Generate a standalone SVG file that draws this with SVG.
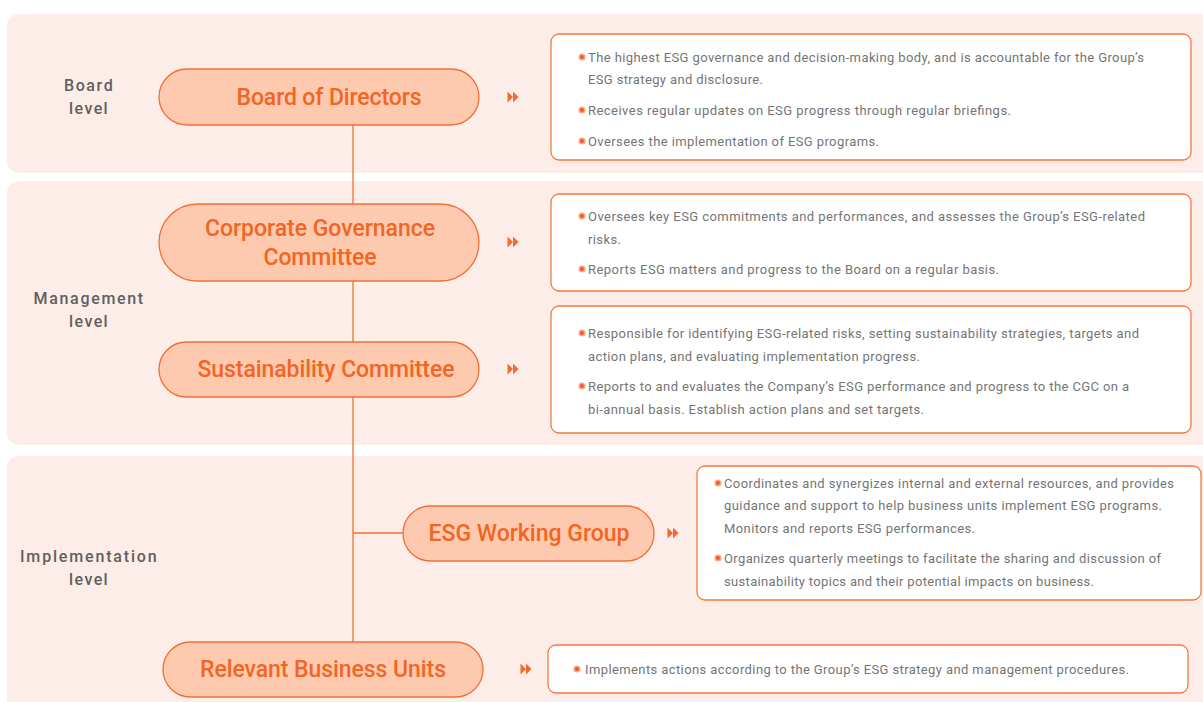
<svg xmlns="http://www.w3.org/2000/svg" width="1203" height="702" viewBox="0 0 1203 702">
<defs>
<style>
.band{fill:#fdede8}
.pill{fill:#fdcab0;stroke:#f07035;stroke-width:1.3}
.title{font-family:Roboto,"Liberation Sans",sans-serif;font-weight:500;font-size:23px;fill:#f26522;text-anchor:middle}
.lvl{font-family:Roboto,"Liberation Sans",sans-serif;font-weight:500;font-size:16px;fill:#606060;text-anchor:middle;letter-spacing:1.3px}
.box{fill:#ffffff;stroke:#f47a3e;stroke-width:1.3}
.txt{font-family:Roboto,"Liberation Sans",sans-serif;font-size:13px;fill:#757575}
.conn{stroke:#f07035;stroke-width:1.3;fill:none}
.arr{fill:#f26a2e}
.bo{fill:#f8a684}
.bi{fill:#ee5a1f}
</style>
<g id="dbl"><path class="arr" d="M-5.5,-5.5 L0,0 L-5.5,5.5 Z M0,-5.5 L5.5,0 L0,5.5 Z"/></g>
<g id="bul"><circle class="bo" r="3.6"/><circle class="bi" r="1.9"/></g>
</defs>

<g id="bands">
<rect class="band" x="7" y="14" width="1210" height="159" rx="12"/>
<rect class="band" x="7" y="181" width="1210" height="264" rx="12"/>
<rect class="band" x="7" y="456" width="1210" height="260" rx="12"/>
</g>

<g id="levels">
<text class="lvl" x="89" y="91" textLength="50">Board</text>
<text class="lvl" x="89" y="114" textLength="40">level</text>
<text class="lvl" x="89" y="304" textLength="111">Management</text>
<text class="lvl" x="89" y="327" textLength="40">level</text>
<text class="lvl" x="89" y="562" textLength="138">Implementation</text>
<text class="lvl" x="89" y="585" textLength="40">level</text>
</g>

<g id="connectors">
<line class="conn" x1="353" y1="125" x2="353" y2="642"/>
<line class="conn" x1="353" y1="533" x2="403" y2="533"/>
<use href="#dbl" x="513" y="97"/>
<use href="#dbl" x="513" y="242"/>
<use href="#dbl" x="513" y="369"/>
<use href="#dbl" x="673" y="533"/>
<use href="#dbl" x="526" y="669"/>
</g>

<g id="board">
<rect class="pill" x="159" y="69" width="320" height="56" rx="28"/>
<text class="title" x="329" y="105" textLength="185">Board of Directors</text>
</g>

<g id="cgc">
<rect class="pill" x="159" y="204" width="320" height="77" rx="38.5"/>
<text class="title" x="320" y="236" textLength="230">Corporate Governance</text>
<text class="title" x="320" y="265" textLength="113">Committee</text>
</g>

<g id="sc">
<rect class="pill" x="159" y="342" width="320" height="55" rx="27.5"/>
<text class="title" x="326" y="377" textLength="257">Sustainability Committee</text>
</g>

<g id="wg">
<rect class="pill" x="403" y="506" width="251" height="55" rx="27.5"/>
<text class="title" x="529" y="541" textLength="201">ESG Working Group</text>
</g>

<g id="bu">
<rect class="pill" x="163" y="642" width="320" height="55" rx="27.5"/>
<text class="title" x="323" y="677" textLength="246">Relevant Business Units</text>
</g>

<g id="desc-board">
<rect class="box" x="551" y="34" width="640" height="126" rx="8"/>
<use href="#bul" x="582" y="57"/>
<text class="txt" x="588" y="61.5" textLength="556">The highest ESG governance and decision-making body, and is accountable for the Group’s</text>
<text class="txt" x="588" y="83.5" textLength="175">ESG strategy and disclosure.</text>
<use href="#bul" x="582" y="110"/>
<text class="txt" x="588" y="114.5" textLength="423">Receives regular updates on ESG progress through regular briefings.</text>
<use href="#bul" x="582" y="141"/>
<text class="txt" x="588" y="145.5" textLength="291">Oversees the implementation of ESG programs.</text>
</g>

<g id="desc-cgc">
<rect class="box" x="551" y="194" width="640" height="97" rx="8"/>
<use href="#bul" x="582" y="216"/>
<text class="txt" x="588" y="220.5" textLength="557">Oversees key ESG commitments and performances, and assesses the Group’s ESG-related</text>
<text class="txt" x="588" y="243.5" textLength="33">risks.</text>
<use href="#bul" x="582" y="269"/>
<text class="txt" x="588" y="273.5" textLength="411">Reports ESG matters and progress to the Board on a regular basis.</text>
</g>

<g id="desc-sc">
<rect class="box" x="551" y="306" width="640" height="127" rx="8"/>
<use href="#bul" x="582" y="333"/>
<text class="txt" x="588" y="337.5" textLength="551">Responsible for identifying ESG-related risks, setting sustainability strategies, targets and</text>
<text class="txt" x="588" y="360.5" textLength="332">action plans, and evaluating implementation progress.</text>
<use href="#bul" x="582" y="386"/>
<text class="txt" x="588" y="390.5" textLength="541">Reports to and evaluates the Company’s ESG performance and progress to the CGC on a</text>
<text class="txt" x="588" y="413.5" textLength="336">bi-annual basis. Establish action plans and set targets.</text>
</g>

<g id="desc-wg">
<rect class="box" x="697" y="466" width="504" height="134" rx="8"/>
<use href="#bul" x="718" y="483"/>
<text class="txt" x="724" y="487.5" textLength="450">Coordinates and synergizes internal and external resources, and provides</text>
<text class="txt" x="724" y="509.5" textLength="438">guidance and support to help business units implement ESG programs.</text>
<text class="txt" x="724" y="532.5" textLength="251">Monitors and reports ESG performances.</text>
<use href="#bul" x="718" y="558"/>
<text class="txt" x="724" y="562.5" textLength="437">Organizes quarterly meetings to facilitate the sharing and discussion of</text>
<text class="txt" x="724" y="585.5" textLength="370">sustainability topics and their potential impacts on business.</text>
</g>

<g id="desc-bu">
<rect class="box" x="548" y="645" width="640" height="48" rx="8"/>
<use href="#bul" x="577" y="669"/>
<text class="txt" x="585" y="673.5" textLength="544">Implements actions according to the Group’s ESG strategy and management procedures.</text>
</g>
</svg>
